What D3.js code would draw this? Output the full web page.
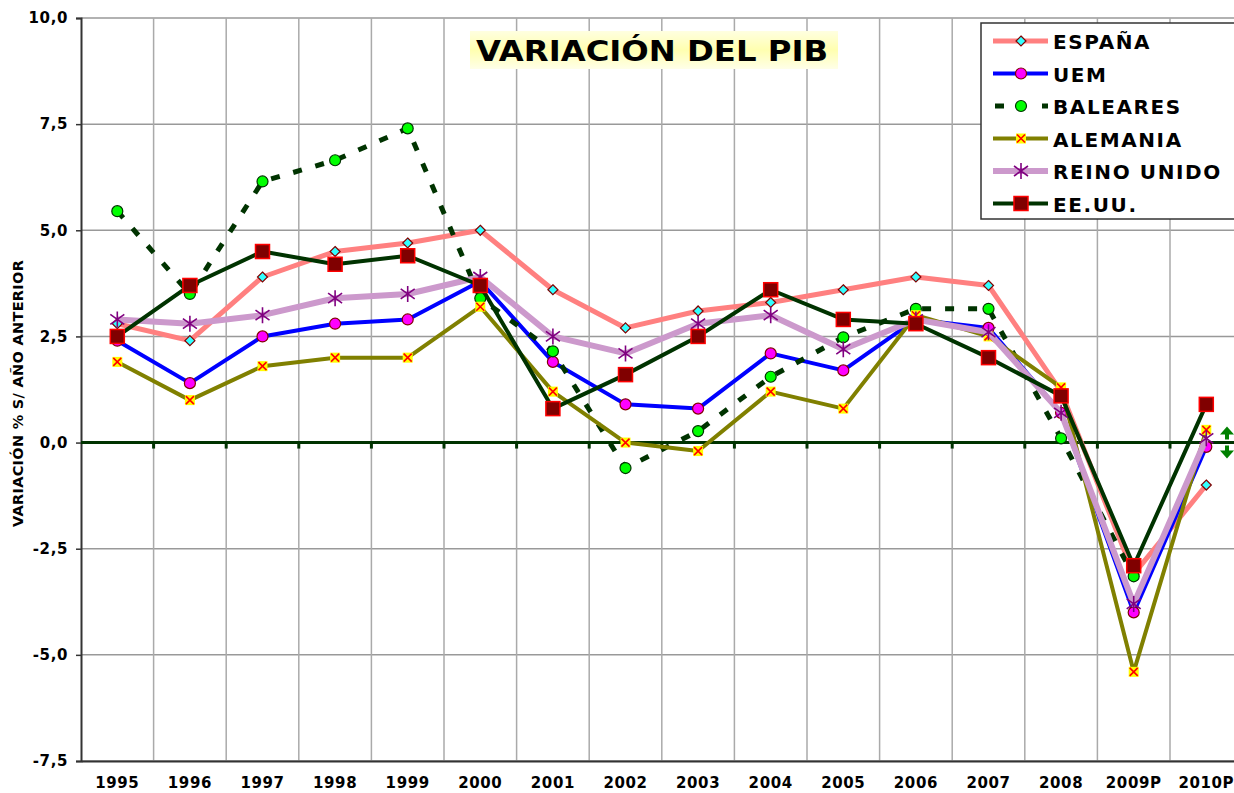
<!DOCTYPE html>
<html lang="es">
  <head>
    <meta charset="UTF-8" />
    <script src="https://d3js.org/d3.v7.min.js"></script>
    <title>Variación del PIB</title>
    <style>
      body { margin: 0; background: #fff; }
      text { font-family: "DejaVu Sans", Verdana, sans-serif; font-weight: bold; }
    </style>
  </head>
  <body>
    <script>
      // años (categorías)
      const years = ["1995", "1996", "1997", "1998", "1999", "2000", "2001", "2002",
                     "2003", "2004", "2005", "2006", "2007", "2008", "2009P", "2010P"];
      const yTicks = [-7.5, -5, -2.5, 0, 2.5, 5, 7.5, 10];

      // valores (% variación s/ año anterior)
      const espana   = [2.8, 2.4, 3.9, 4.5, 4.7, 5.0, 3.6, 2.7, 3.1, 3.3, 3.6, 3.9, 3.7, 1.2, -3.1, -1.0];
      const uem      = [2.4, 1.4, 2.5, 2.8, 2.9, 3.8, 1.9, 0.9, 0.8, 2.1, 1.7, 2.9, 2.7, 0.7, -4.0, -0.1];
      const baleares = [5.45, 3.5, 6.15, 6.65, 7.4, 3.4, 2.15, -0.6, 0.27, 1.55, 2.48, 3.15, 3.15, 0.1, -3.15, null];
      const alemania = [1.9, 1.0, 1.8, 2.0, 2.0, 3.2, 1.2, 0.0, -0.2, 1.2, 0.8, 3.0, 2.5, 1.3, -5.4, 0.3];
      const reinoUnido = [2.9, 2.8, 3.0, 3.4, 3.5, 3.9, 2.5, 2.1, 2.8, 3.0, 2.2, 2.9, 2.6, 0.7, -3.8, 0.1];
      const eeuu     = [2.5, 3.7, 4.5, 4.2, 4.4, 3.7, 0.8, 1.6, 2.5, 3.6, 2.9, 2.8, 2.0, 1.1, -2.9, 0.9];

      const series = [
        { name: "ESPAÑA", values: espana, color: "#ff8080", width: 5, dash: null, marker: "diamond" },
        { name: "UEM", values: uem, color: "#0000ff", width: 4, dash: null, marker: "circleM" },
        { name: "BALEARES", values: baleares, color: "#003300", width: 5, dash: "9,14", marker: "circleG" },
        { name: "ALEMANIA", values: alemania, color: "#808000", width: 4, dash: null, marker: "x" },
        { name: "REINO UNIDO", values: reinoUnido, color: "#cc99cc", width: 6, dash: null, marker: "star" },
        { name: "EE.UU.", values: eeuu, color: "#003300", width: 4, dash: null, marker: "square" }
      ];

      const W = 1234, H = 793;
      const plotLeft = 81, plotTop = 18, plotBottom = 761;
      const svg = d3.select("body").append("svg").attr("width", W).attr("height", H);

      const x = d3.scaleBand().domain(years).range([plotLeft, plotLeft + 72.6 * years.length]);
      const y = d3.scaleLinear().domain([-7.5, 10]).range([plotBottom, plotTop]);

      // rejilla horizontal
      svg.append("g").selectAll("line").data(yTicks).join("line")
        .attr("x1", plotLeft).attr("x2", W)
        .attr("y1", d => y(d)).attr("y2", d => y(d))
        .attr("stroke", "#999").attr("stroke-width", 1.5);

      // rejilla vertical
      svg.append("g").selectAll("line").data(years.slice(1)).join("line")
        .attr("x1", d => x(d)).attr("x2", d => x(d))
        .attr("y1", plotTop).attr("y2", plotBottom)
        .attr("stroke", "#aaa").attr("stroke-width", 1.5);

      // eje Y
      const axisY = d3.axisLeft(y).tickValues(yTicks).tickSize(5)
        .tickFormat(d => d.toFixed(1).replace(".", ","));
      const gy = svg.append("g").attr("transform", `translate(${plotLeft},0)`).call(axisY);
      gy.select(".domain").attr("stroke", "#333").attr("stroke-width", 2);
      gy.selectAll(".tick line").attr("stroke", "#333").attr("stroke-width", 1.5);
      gy.selectAll(".tick text").attr("font-size", 15).attr("fill", "#000")
        .attr("x", -13).attr("letter-spacing", 0.6)
        .style("font-family", "DejaVu Sans").style("font-weight", "bold");

      // eje X abajo
      const axisX = d3.axisBottom(x).tickSize(0).tickPadding(16);
      const gx = svg.append("g").attr("transform", `translate(0,${plotBottom})`).call(axisX);
      gx.select(".domain").attr("stroke", "#333").attr("stroke-width", 2);
      gx.selectAll(".tick text").attr("font-size", 15).attr("fill", "#000")
        .attr("letter-spacing", 0.6)
        .style("font-family", "DejaVu Sans").style("font-weight", "bold");

      // línea del cero
      svg.append("line").attr("x1", plotLeft).attr("x2", W)
        .attr("y1", y(0)).attr("y2", y(0))
        .attr("stroke", "#003300").attr("stroke-width", 3);
      svg.append("g").selectAll("line").data(years.slice(1)).join("line")
        .attr("x1", d => x(d)).attr("x2", d => x(d))
        .attr("y1", y(0)).attr("y2", y(0) + 6)
        .attr("stroke", "#003300").attr("stroke-width", 3);

      // título eje Y
      svg.append("text")
        .attr("transform", `translate(23,${(plotTop + plotBottom) / 2 + 4}) rotate(-90)`)
        .attr("text-anchor", "middle").attr("font-size", 14.5).attr("letter-spacing", 0.3)
        .text("VARIACIÓN % S/ AÑO ANTERIOR");

      // marcadores
      function drawMarker(g, type) {
        if (type === "diamond") {
          g.append("path").attr("d", "M0,-5L5,0L0,5L-5,0Z")
            .attr("fill", "#33ffff").attr("stroke", "#800000").attr("stroke-width", 1.2);
        } else if (type === "circleM") {
          g.append("circle").attr("r", 5.5)
            .attr("fill", "#ff00ff").attr("stroke", "#800000").attr("stroke-width", 1.2);
        } else if (type === "circleG") {
          g.append("circle").attr("r", 5.5)
            .attr("fill", "#00ff00").attr("stroke", "#003300").attr("stroke-width", 1.2);
        } else if (type === "x") {
          g.append("rect").attr("x", -5).attr("y", -5).attr("width", 10).attr("height", 10)
            .attr("fill", "#ffff00");
          g.append("path").attr("d", "M-4,-4L4,4M-4,4L4,-4")
            .attr("stroke", "#ff0000").attr("stroke-width", 1.6);
        } else if (type === "star") {
          g.append("path").attr("d", "M0,-8V8M-7,-5L7,5M-7,5L7,-5")
            .attr("stroke", "#800080").attr("stroke-width", 1.6);
        } else if (type === "square") {
          g.append("rect").attr("x", -7).attr("y", -7).attr("width", 14).attr("height", 14)
            .attr("fill", "#800000").attr("stroke", "#ff0000").attr("stroke-width", 1.5);
        }
      }

      const cx = d => x(d) + x.bandwidth() / 2;
      const line = d3.line()
        .defined(d => d.v !== null)
        .x(d => cx(d.year)).y(d => y(d.v));

      series.forEach(s => {
        const pts = years.map((yr, i) => ({ year: yr, v: s.values[i] }));
        svg.append("path").datum(pts)
          .attr("d", line).attr("fill", "none")
          .attr("stroke", s.color).attr("stroke-width", s.width)
          .attr("stroke-dasharray", s.dash)
          .attr("stroke-linejoin", "round");
        svg.append("g").selectAll("g").data(pts.filter(d => d.v !== null)).join("g")
          .attr("transform", d => `translate(${cx(d.year)},${y(d.v)})`)
          .each(function () { drawMarker(d3.select(this), s.marker); });
      });

      // flechas verdes a la derecha
      const arrows = svg.append("g").attr("transform", `translate(1227,${y(0)})`).attr("fill", "#008000");
      arrows.append("path").attr("d", "M0,-16L7,-8H2V-3H-2V-8H-7Z");
      arrows.append("path").attr("d", "M0,16L7,8H2V3H-2V8H-7Z");

      // título
      const defs = svg.append("defs");
      const grad = defs.append("linearGradient").attr("id", "tgrad").attr("x1", 0).attr("y1", 0).attr("x2", 0).attr("y2", 1);
      grad.append("stop").attr("offset", "0%").attr("stop-color", "#ffffe0");
      grad.append("stop").attr("offset", "50%").attr("stop-color", "#ffffb0");
      grad.append("stop").attr("offset", "100%").attr("stop-color", "#ffffe8");
      const tg = svg.append("g");
      tg.append("rect").attr("x", 470).attr("y", 31).attr("width", 368).attr("height", 38)
        .attr("fill", "url(#tgrad)");
      tg.append("text").attr("x", 476).attr("y", 61)
        .attr("font-size", 28).attr("textLength", 352).attr("lengthAdjust", "spacingAndGlyphs")
        .text("VARIACIÓN DEL PIB");

      // leyenda
      const lg = svg.append("g").attr("transform", "translate(981,23)");
      lg.append("rect").attr("width", 260).attr("height", 196)
        .attr("fill", "#fff").attr("stroke", "#333").attr("stroke-width", 1.5);
      series.forEach((s, i) => {
        const row = lg.append("g").attr("transform", `translate(0,${18 + i * 32.5})`);
        row.append("line").attr("x1", 12).attr("x2", 67)
          .attr("stroke", s.color).attr("stroke-width", s.width)
          .attr("stroke-dasharray", s.dash ? "9,38" : null)
          .attr("stroke-dashoffset", s.dash ? -2 : null);
        drawMarker(row.append("g").attr("transform", "translate(40,0)"), s.marker);
        row.append("text").attr("x", 72).attr("y", 8).attr("font-size", 20)
          .attr("letter-spacing", 1.6).text(s.name);
      });
    </script>
  </body>
</html>
